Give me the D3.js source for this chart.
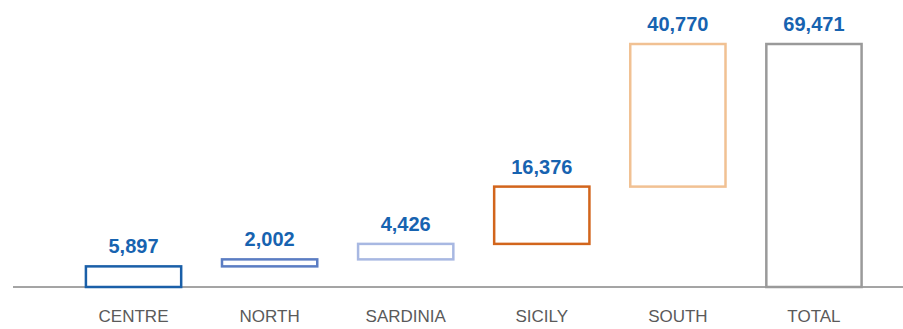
<!DOCTYPE html>
<html>
<head>
<meta charset="utf-8">
<script src="https://cdn.jsdelivr.net/npm/d3@7"></script>
<style>
  html, body { margin: 0; padding: 0; background: #fff; }
  svg { display: block; }
</style>
</head>
<body>
<svg id="chart" width="903" height="329"></svg>
<script>
// Regional contributions, stacked into a running total
const categories = ["CENTRE", "NORTH", "SARDINIA", "SICILY", "SOUTH", "TOTAL"];
const values = [5897, 2002, 4426, 16376, 40770, 69471];
const palette = ["#1a5fa8", "#5b7dc3", "#a8b8e2", "#d2651c", "#f1c193", "#9a9a9a"];

const width = 903, height = 329;
const svg = d3.select("#chart");

// Build floating segments: each region starts where the previous one ended,
// the final TOTAL bar starts from zero.
let running = 0;
const segments = categories.map((c, i) => {
  const isTotal = c === "TOTAL";
  const start = isTotal ? 0 : running;
  const end = isTotal ? values[i] : running + values[i];
  if (!isTotal) running = end;
  return { category: c, value: values[i], start, end };
});

const x = d3.scaleBand()
  .domain(categories)
  .range([65.5, 882])
  .paddingInner(0.30)
  .paddingOuter(0.15);

const y = d3.scaleLinear()
  .domain([0, d3.max(segments, d => d.end)])
  .range([287, 44]);

const color = d3.scaleOrdinal().domain(categories).range(palette);

// Baseline
svg.append("line")
  .attr("x1", 13).attr("x2", width)
  .attr("y1", y(0)).attr("y2", y(0))
  .attr("stroke", "#4a4a4a")
  .attr("stroke-width", 1);

// Outlined bars
svg.append("g")
  .selectAll("rect")
  .data(segments)
  .join("rect")
  .attr("x", d => x(d.category))
  .attr("width", x.bandwidth())
  .attr("y", d => y(d.end))
  .attr("height", d => y(d.start) - y(d.end))
  .attr("fill", "none")
  .attr("stroke", d => color(d.category))
  .attr("stroke-width", 2.5);

// Value labels above each bar
const fmt = d3.format(",");
svg.append("g")
  .selectAll("text")
  .data(segments)
  .join("text")
  .attr("x", d => x(d.category) + x.bandwidth() / 2)
  .attr("y", d => y(d.end) - 13)
  .attr("text-anchor", "middle")
  .attr("font-family", "'Liberation Sans', Arial, sans-serif")
  .attr("font-weight", "bold")
  .attr("font-size", 20)
  .attr("fill", "#1763b0")
  .text(d => fmt(d.value));

// Category axis labels
const axis = d3.axisBottom(x).tickSize(0).tickPadding(0);
const ax = svg.append("g")
  .attr("transform", `translate(0, ${y(0)})`)
  .call(axis);
ax.select(".domain").remove();
ax.selectAll("text")
  .attr("dy", null)
  .attr("y", 35)
  .attr("font-family", "'Liberation Sans', Arial, sans-serif")
  .attr("font-size", 17)
  .attr("fill", "#5a5a5a");
</script>
</body>
</html>
